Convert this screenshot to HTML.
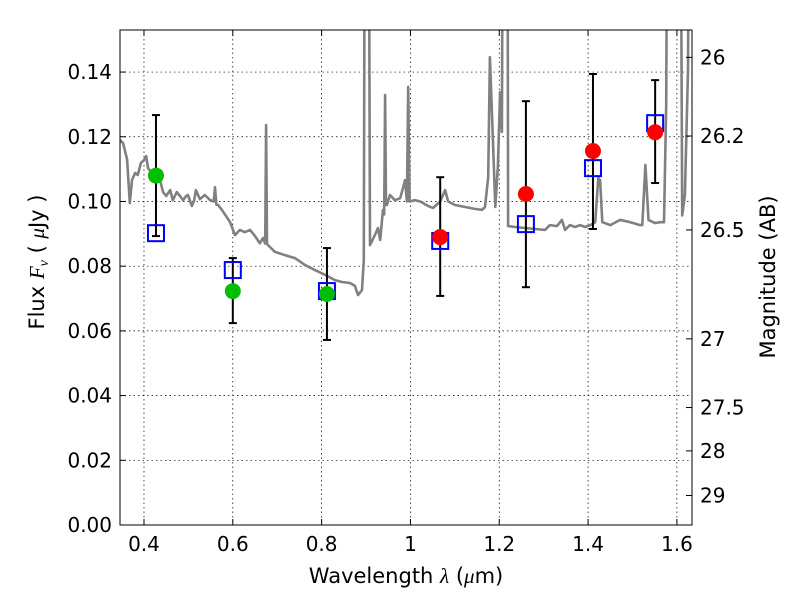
<!DOCTYPE html>
<html><head><meta charset="utf-8"><style>
body{margin:0;background:#fff;}
svg text{font-family:"DejaVu Sans","Liberation Sans",sans-serif;fill:#000;}
</style></head><body>
<svg id="chart" width="800" height="600" xmlns="http://www.w3.org/2000/svg"></svg>
<script>
const xTicks=[0.4,0.6,0.8,1,1.2,1.4,1.6];
const xTickLabels=["0.4","0.6","0.8","1","1.2","1.4","1.6"];
const yTicks=[0,0.02,0.04,0.06,0.08,0.1,0.12,0.14];
const yTickLabels=["0.00","0.02","0.04","0.06","0.08","0.10","0.12","0.14"];
const magTicks=[26,26.2,26.5,27,27.5,28,29];
const magLabels=["26","26.2","26.5","27","27.5","28","29"];
const greenLam=[0.427,0.600,0.812];
const greenFlux=[0.108,0.0723,0.0714];
const redLam=[1.067,1.260,1.411,1.551];
const redFlux=[0.089,0.1023,0.1156,0.1214];
const boxLam=[0.427,0.600,0.812,1.067,1.260,1.411,1.551];
const boxFlux=[0.0902,0.0788,0.0723,0.0878,0.093,0.1103,0.1242];
const errLam=[0.427,0.600,0.812,1.067,1.260,1.411,1.551];
const errHigh=[0.1267,0.0825,0.0856,0.1075,0.131,0.1394,0.1375];
const errLow=[0.0893,0.0624,0.0572,0.0708,0.0735,0.0915,0.1057];
const specLam=[0.346,0.353,0.362,0.368,0.373,0.380,0.386,0.393,0.400,0.405,0.409,0.416,0.423,0.429,0.436,0.443,0.450,0.459,0.465,0.474,0.481,0.488,0.495,0.499,0.508,0.513,0.517,0.526,0.537,0.549,0.557,0.560,0.563,0.567,0.576,0.594,0.605,0.616,0.627,0.639,0.650,0.661,0.668,0.673,0.675,0.677,0.679,0.695,0.718,0.740,0.763,0.785,0.808,0.830,0.846,0.864,0.875,0.882,0.891,0.895,0.898,0.905,0.909,0.920,0.927,0.932,0.938,0.941,0.943,0.945,0.947,0.954,0.965,0.977,0.988,0.992,0.995,0.998,1.010,1.022,1.040,1.051,1.067,1.078,1.085,1.100,1.123,1.145,1.161,1.168,1.175,1.179,1.184,1.191,1.197,1.202,1.206,1.209,1.218,1.220,1.236,1.258,1.281,1.303,1.314,1.330,1.341,1.348,1.359,1.371,1.382,1.393,1.405,1.416,1.423,1.427,1.432,1.450,1.472,1.495,1.517,1.522,1.529,1.536,1.551,1.562,1.571,1.576,1.580,1.607,1.612,1.618,1.625,1.629,1.634];
const specFlux=[0.119,0.118,0.113,0.0995,0.1066,0.1088,0.1082,0.1119,0.1128,0.114,0.1103,0.1091,0.1082,0.1072,0.1066,0.1029,0.1017,0.1035,0.1004,0.1029,0.1017,0.1004,0.1017,0.102,0.0986,0.1004,0.1035,0.1007,0.102,0.1004,0.1000,0.1044,0.0990,0.0989,0.0973,0.0936,0.0896,0.0912,0.0905,0.0912,0.0893,0.0871,0.0887,0.0870,0.1236,0.0870,0.0865,0.0844,0.0834,0.0825,0.0803,0.0788,0.0773,0.0757,0.0751,0.0748,0.0739,0.0711,0.0726,0.0819,0.25,0.25,0.0865,0.0896,0.0918,0.0881,0.0973,0.0960,0.1329,0.0990,0.0989,0.102,0.1004,0.101,0.1066,0.1000,0.1354,0.1000,0.1004,0.1000,0.0986,0.0980,0.1000,0.1035,0.1000,0.0989,0.0983,0.0977,0.0974,0.0983,0.1075,0.1446,0.1252,0.0983,0.1110,0.1338,0.1215,0.25,0.25,0.0924,0.0921,0.0918,0.0915,0.0912,0.0927,0.0924,0.0943,0.0912,0.0927,0.0921,0.0927,0.0921,0.0927,0.0936,0.1072,0.1066,0.0936,0.0927,0.0943,0.0936,0.0927,0.0927,0.1113,0.0943,0.0933,0.0936,0.0936,0.1298,0.25,0.25,0.0957,0.1020,0.1406,0.25,0.25];

const svg=document.getElementById('chart');
const NS='http://www.w3.org/2000/svg';
const L=120,R=692,T=30,B=525;
const xmin=0.346,xmax=1.634,ymin=0,ymax=0.153;
function xs(v){return L+(v-xmin)/(xmax-xmin)*(R-L);}
function ys(v){return B-(v-ymin)/(ymax-ymin)*(B-T);}
function mk(tag,attrs,parent){const e=document.createElementNS(NS,tag);for(const k in attrs)e.setAttribute(k,attrs[k]);(parent||svg).appendChild(e);return e;}

const defs=mk('defs',{});
const cp=mk('clipPath',{id:'clip'},defs);
mk('rect',{x:L,y:T,width:R-L,height:B-T},cp);

const grid=mk('g',{});


xTicks.forEach(v=>{mk('line',{x1:xs(v),x2:xs(v),y1:T,y2:B,stroke:'#000','stroke-width':0.7,'stroke-dasharray':'1.5,3'},grid);});
yTicks.forEach(v=>{mk('line',{x1:L,x2:R,y1:ys(v),y2:ys(v),stroke:'#000','stroke-width':0.7,'stroke-dasharray':'1.5,3'},grid);});

let d='';
specLam.forEach((l,i)=>{d+=(i?'L':'M')+xs(l).toFixed(1)+','+ys(specFlux[i]).toFixed(1);});
const spec=mk('path',{d:d,fill:'none',stroke:'#808080','stroke-width':2.6,'stroke-linejoin':'round','clip-path':'url(#clip)'});



errLam.forEach((l,i)=>{
 const g=mk('g',{});
 
 
 const x=xs(l),y1=ys(errHigh[i]),y2=ys(errLow[i]);
 mk('line',{x1:x,x2:x,y1:y1,y2:y2,stroke:'#000','stroke-width':2},g);
 mk('line',{x1:x-4,x2:x+4,y1:y1,y2:y1,stroke:'#000','stroke-width':2},g);
 mk('line',{x1:x-4,x2:x+4,y1:y2,y2:y2,stroke:'#000','stroke-width':2},g);
});
boxLam.forEach((l,i)=>{
 const r=mk('rect',{x:xs(l)-8,y:ys(boxFlux[i])-8,width:16,height:16,fill:'none',stroke:'#0000ff','stroke-width':2});
 
 
});
greenLam.forEach((l,i)=>{
 const c=mk('circle',{cx:xs(l),cy:ys(greenFlux[i]),r:8,fill:'#00bf00'});
 
 
});
redLam.forEach((l,i)=>{
 const c=mk('circle',{cx:xs(l),cy:ys(redFlux[i]),r:8,fill:'#ff0000'});
 
 
});

const fr=mk('rect',{x:L,y:T,width:R-L,height:B-T,fill:'none',stroke:'#000','stroke-width':1});



xTicks.forEach((v,i)=>{
 const x=xs(v);
 mk('line',{x1:x,x2:x,y1:B,y2:B-6,stroke:'#000'});
 mk('line',{x1:x,x2:x,y1:T,y2:T+6,stroke:'#000'});
 const t=mk('text',{x:x,y:B+26,'text-anchor':'middle','font-size':20});
 t.textContent=xTickLabels[i];
 
 
});
yTicks.forEach((v,i)=>{
 const y=ys(v);
 mk('line',{x1:L,x2:L+6,y1:y,y2:y,stroke:'#000'});
 const t=mk('text',{x:L-8,y:y+7,'text-anchor':'end','font-size':20});
 t.textContent=yTickLabels[i];
 
 
});
magTicks.forEach((m,i)=>{
 const f=Math.pow(10,(23.9-m)/2.5);
 const y=ys(f);
 mk('line',{x1:R,x2:R-6,y1:y,y2:y,stroke:'#000'});
 const t=mk('text',{x:R+8,y:y+7,'text-anchor':'start','font-size':20});
 t.textContent=magLabels[i];
 
 
});

const xt=mk('text',{x:406,y:583,'text-anchor':'middle','font-size':21});
xt.innerHTML='Wavelength  <tspan font-style="italic" font-family="Liberation Serif,serif">λ</tspan> (<tspan font-style="italic" font-family="Liberation Serif,serif">μ</tspan>m)';


const yt=mk('text',{x:0,y:0,'text-anchor':'middle','font-size':21,transform:'translate(44,262) rotate(-90)'});
yt.innerHTML='Flux  <tspan font-style="italic" font-family="Liberation Serif,serif">F</tspan><tspan font-style="italic" font-size="14" dy="4" font-family="Liberation Serif,serif">ν</tspan><tspan dy="-4">  (  </tspan><tspan font-style="italic" font-family="Liberation Serif,serif">μ</tspan>Jy )';


const yr=mk('text',{x:0,y:0,'text-anchor':'middle','font-size':21,transform:'translate(775,277) rotate(-90)'});
yr.textContent='Magnitude (AB)';


</script>
</body></html>
